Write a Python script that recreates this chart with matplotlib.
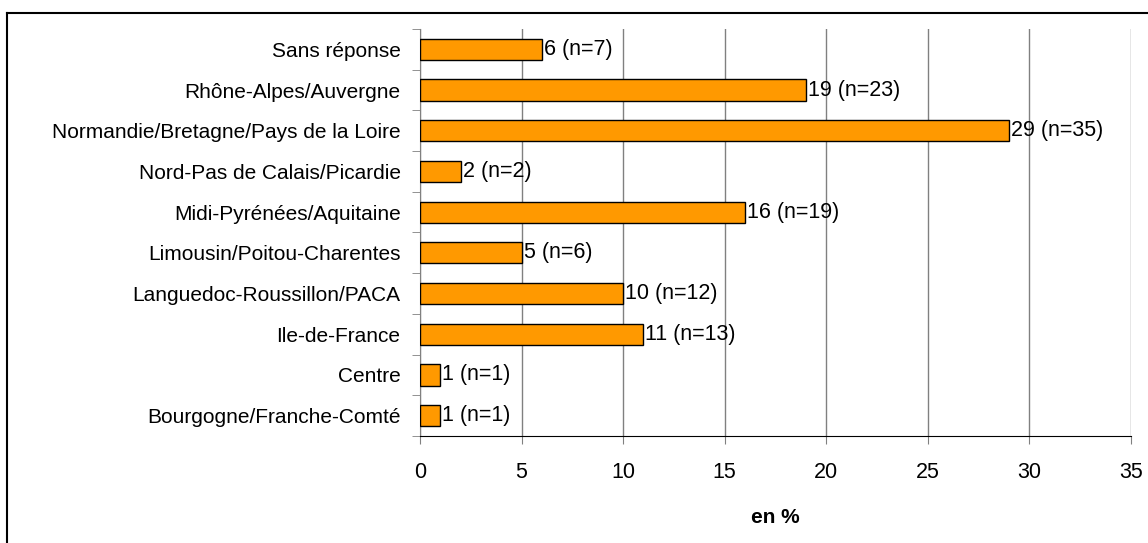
import matplotlib
matplotlib.use("Agg")
import matplotlib.pyplot as plt
from matplotlib.lines import Line2D
import numpy as np

regions = ["Bourgogne/Franche-Comté", "Centre", "Ile-de-France",
           "Languedoc-Roussillon/PACA", "Limousin/Poitou-Charentes",
           "Midi-Pyrénées/Aquitaine", "Nord-Pas de Calais/Picardie",
           "Normandie/Bretagne/Pays de la Loire", "Rhône-Alpes/Auvergne",
           "Sans réponse"]
pct = [1, 1, 11, 10, 5, 16, 2, 29, 19, 6]
counts = [1, 1, 13, 12, 6, 19, 2, 35, 23, 7]

plt.rcParams['font.family'] = ['Liberation Sans', 'DejaVu Sans']

fig = plt.figure(figsize=(11.48, 5.43), dpi=100)
ax = fig.add_axes([420/1148, 1-436/543, 711/1148, 407/543])

y = np.arange(len(regions))
ax.barh(y, pct, height=0.52, color='#ff9900', edgecolor='black', linewidth=1, zorder=3)
for yi, v, n in zip(y, pct, counts):
    ax.text(v + 0.1, yi, "%d (n=%d)" % (v, n), va='center', ha='left', fontsize=15.5, zorder=4)

ax.set_xlim(0, 35)
ax.set_ylim(-0.5, len(regions) - 0.5)
ax.set_xticks(range(0, 36, 5))
ax.set_yticks(y)
ax.set_yticklabels(regions)
ax.set_yticks(np.arange(-0.5, len(regions), 1), minor=True)
ax.tick_params(axis='y', which='major', length=0, pad=14, labelsize=15)
ax.tick_params(axis='y', which='minor', length=6, color='#808080', direction='out')
ax.tick_params(axis='x', length=6, color='#808080', labelsize=15.5, pad=13)
ax.grid(axis='x', color='#808080', linewidth=1, zorder=0)

for s in ['top', 'right']:
    ax.spines[s].set_visible(False)
ax.spines['left'].set_color('#808080')
ax.spines['bottom'].set_color('black')

ax.set_xlabel("en %", fontsize=15, fontweight='bold', labelpad=18)

# outer frame (top and left)
fig.add_artist(Line2D([7/1148, 7/1148], [0, 1-13/543], transform=fig.transFigure, color='black', linewidth=1.5))
fig.add_artist(Line2D([7/1148, 1], [1-13/543, 1-13/543], transform=fig.transFigure, color='black', linewidth=1.5))

fig.savefig("out.png", dpi=100)
